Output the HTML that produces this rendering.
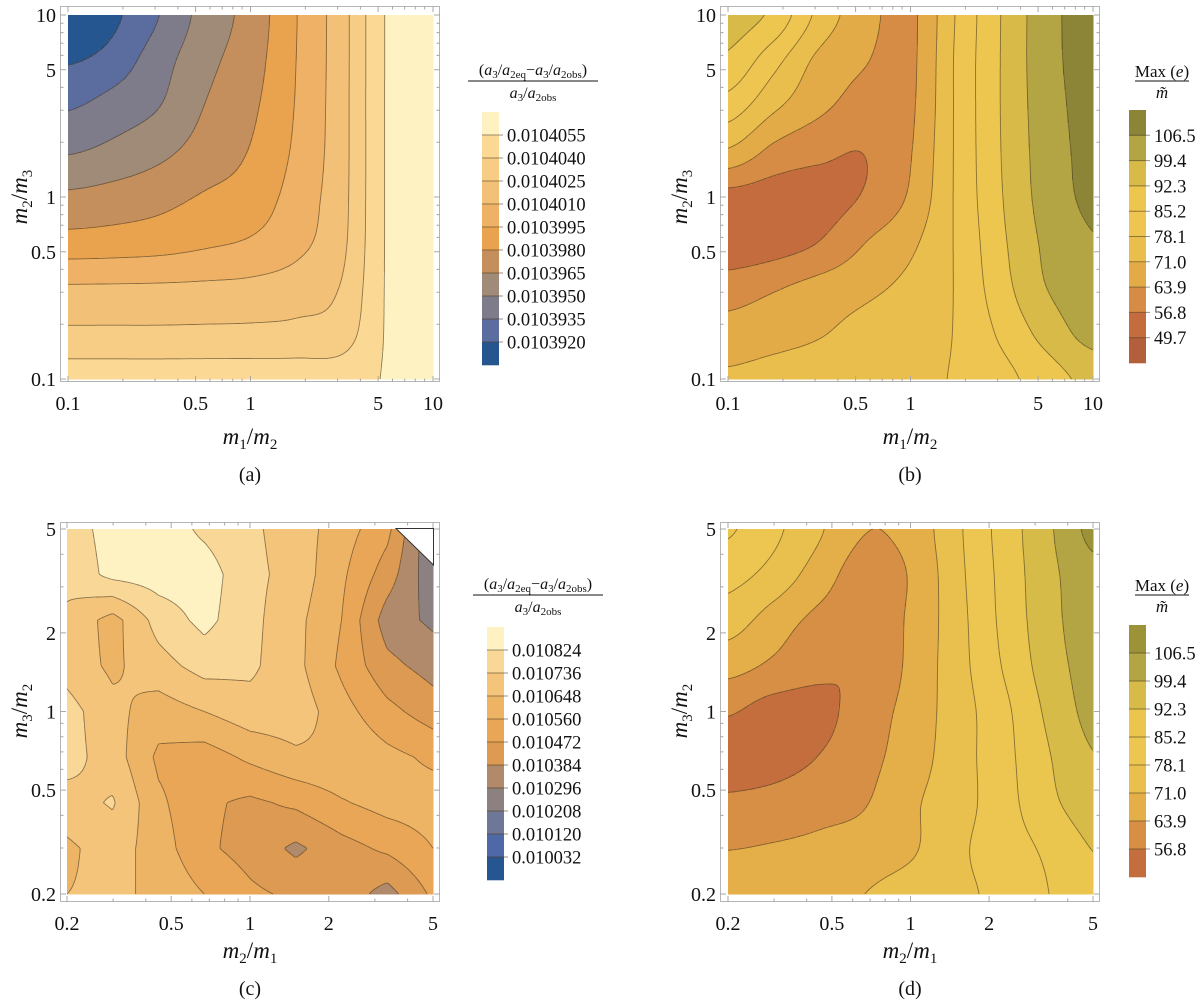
<!DOCTYPE html>
<html>
<head>
<meta charset="utf-8">
<style>
  html,body{margin:0;padding:0;background:#fff;}
  svg{display:block;font-family:"Liberation Serif",serif;}
</style>
</head>
<body>
<svg id="fig" width="1200" height="1003" viewBox="0 0 1200 1003" xmlns="http://www.w3.org/2000/svg">
  <g fill="#111">
    <text x="250" y="444" text-anchor="middle" font-size="23"><tspan font-style="italic">m</tspan><tspan font-size="15" dy="5">1</tspan><tspan dy="-5">/</tspan><tspan font-style="italic">m</tspan><tspan font-size="15" dy="5">2</tspan></text>
    <text transform="translate(27,197) rotate(-90)" text-anchor="middle" font-size="23"><tspan font-style="italic">m</tspan><tspan font-size="15" dy="5">2</tspan><tspan dy="-5">/</tspan><tspan font-style="italic">m</tspan><tspan font-size="15" dy="5">3</tspan></text>
    <text x="250" y="481" text-anchor="middle" font-size="20">(a)</text>
    <g font-size="16">
      <text x="533" y="75" text-anchor="middle">(<tspan font-style="italic">a</tspan><tspan font-size="11" dy="3">3</tspan><tspan dy="-3">/</tspan><tspan font-style="italic">a</tspan><tspan font-size="11" dy="3">2eq</tspan><tspan dy="-3">−</tspan><tspan font-style="italic">a</tspan><tspan font-size="11" dy="3">3</tspan><tspan dy="-3">/</tspan><tspan font-style="italic">a</tspan><tspan font-size="11" dy="3">2obs</tspan><tspan dy="-3">)</tspan></text>
      <line x1="468" y1="81" x2="598" y2="81" stroke="#111" stroke-width="1"/>
      <text x="533" y="98" text-anchor="middle"><tspan font-style="italic">a</tspan><tspan font-size="11" dy="3">3</tspan><tspan dy="-3">/</tspan><tspan font-style="italic">a</tspan><tspan font-size="11" dy="3">2obs</tspan></text>
    </g>
  </g>
  <g fill="#111">
    <text x="910" y="444" text-anchor="middle" font-size="23"><tspan font-style="italic">m</tspan><tspan font-size="15" dy="5">1</tspan><tspan dy="-5">/</tspan><tspan font-style="italic">m</tspan><tspan font-size="15" dy="5">2</tspan></text>
    <text transform="translate(687,197) rotate(-90)" text-anchor="middle" font-size="23"><tspan font-style="italic">m</tspan><tspan font-size="15" dy="5">2</tspan><tspan dy="-5">/</tspan><tspan font-style="italic">m</tspan><tspan font-size="15" dy="5">3</tspan></text>
    <text x="910" y="481" text-anchor="middle" font-size="20">(b)</text>
    <g font-size="17">
      <text x="1162" y="77" text-anchor="middle">Max (<tspan font-style="italic">e</tspan>)</text>
      <line x1="1135" y1="81" x2="1189" y2="81" stroke="#111" stroke-width="1"/>
      <text x="1162" y="98" text-anchor="middle" font-style="italic">m̃</text>
    </g>
  </g>
  <g fill="#111">
    <text x="250" y="958" text-anchor="middle" font-size="23"><tspan font-style="italic">m</tspan><tspan font-size="15" dy="5">2</tspan><tspan dy="-5">/</tspan><tspan font-style="italic">m</tspan><tspan font-size="15" dy="5">1</tspan></text>
    <text transform="translate(27,711) rotate(-90)" text-anchor="middle" font-size="23"><tspan font-style="italic">m</tspan><tspan font-size="15" dy="5">3</tspan><tspan dy="-5">/</tspan><tspan font-style="italic">m</tspan><tspan font-size="15" dy="5">2</tspan></text>
    <text x="250" y="995" text-anchor="middle" font-size="20">(c)</text>
    <g font-size="16">
      <text x="538" y="589" text-anchor="middle">(<tspan font-style="italic">a</tspan><tspan font-size="11" dy="3">3</tspan><tspan dy="-3">/</tspan><tspan font-style="italic">a</tspan><tspan font-size="11" dy="3">2eq</tspan><tspan dy="-3">−</tspan><tspan font-style="italic">a</tspan><tspan font-size="11" dy="3">3</tspan><tspan dy="-3">/</tspan><tspan font-style="italic">a</tspan><tspan font-size="11" dy="3">2obs</tspan><tspan dy="-3">)</tspan></text>
      <line x1="473" y1="595" x2="603" y2="595" stroke="#111" stroke-width="1"/>
      <text x="538" y="612" text-anchor="middle"><tspan font-style="italic">a</tspan><tspan font-size="11" dy="3">3</tspan><tspan dy="-3">/</tspan><tspan font-style="italic">a</tspan><tspan font-size="11" dy="3">2obs</tspan></text>
    </g>
  </g>
  <g fill="#111">
    <text x="910" y="958" text-anchor="middle" font-size="23"><tspan font-style="italic">m</tspan><tspan font-size="15" dy="5">2</tspan><tspan dy="-5">/</tspan><tspan font-style="italic">m</tspan><tspan font-size="15" dy="5">1</tspan></text>
    <text transform="translate(687,711) rotate(-90)" text-anchor="middle" font-size="23"><tspan font-style="italic">m</tspan><tspan font-size="15" dy="5">3</tspan><tspan dy="-5">/</tspan><tspan font-style="italic">m</tspan><tspan font-size="15" dy="5">2</tspan></text>
    <text x="910" y="995" text-anchor="middle" font-size="20">(d)</text>
    <g font-size="17">
      <text x="1162" y="591" text-anchor="middle">Max (<tspan font-style="italic">e</tspan>)</text>
      <line x1="1135" y1="595" x2="1189" y2="595" stroke="#111" stroke-width="1"/>
      <text x="1162" y="612" text-anchor="middle" font-style="italic">m̃</text>
    </g>
  </g>
</svg>
<script>
// ---------------- DATA ----------------
const A_CATS_X = [0.1, 0.1778, 0.3162, 0.5623, 1, 1.778, 3.162, 5.623, 10];
const A_CATS_Y = [10, 5.623, 3.162, 1.778, 1, 0.5623, 0.3162, 0.1778, 0.1];
const A_Z = [
  [0.01038960,0.01039163,0.01039350,0.01039557,0.01039707,0.01039944,0.01040192,0.01040565,0.01040655],
  [0.01039181,0.01039269,0.01039436,0.01039605,0.01039734,0.01039950,0.01040193,0.01040565,0.01040655],
  [0.01039334,0.01039410,0.01039497,0.01039653,0.01039769,0.01039959,0.01040195,0.01040565,0.01040655],
  [0.01039487,0.01039541,0.01039613,0.01039713,0.01039809,0.01039977,0.01040196,0.01040565,0.01040655],
  [0.01039680,0.01039709,0.01039751,0.01039815,0.01039869,0.01040012,0.01040202,0.01040565,0.01040655],
  [0.01039857,0.01039868,0.01039887,0.01039926,0.01039967,0.01040055,0.01040216,0.01040565,0.01040655],
  [0.01040118,0.01040120,0.01040123,0.01040130,0.01040141,0.01040177,0.01040262,0.01040565,0.01040655],
  [0.01040280,0.01040280,0.01040280,0.01040283,0.01040286,0.01040294,0.01040328,0.01040565,0.01040655],
  [0.01040475,0.01040475,0.01040475,0.01040475,0.01040475,0.01040475,0.01040477,0.01040565,0.01040655]
];
const A_LEVELS = [0.010392,0.0103935,0.010395,0.0103965,0.010398,0.0103995,0.010401,0.0104025,0.010404,0.0104055];
const A_LEGEND_LABELS = ["0.0103920","0.0103935","0.0103950","0.0103965","0.0103980","0.0103995","0.0104010","0.0104025","0.0104040","0.0104055"];
const A_COLORS = ["#26568f","#5b6c9f","#7e7b8a","#a08a78","#c48f5c","#e9a24e","#eeb166","#f2c077","#f7cd85","#fbd894","#fff2c2"];

const B_CATS_X = [0.1, 0.1778, 0.3162, 0.5623, 1, 1.778, 3.162, 5.623, 10];
const B_CATS_Y = [10, 5.623, 3.162, 1.778, 1, 0.5623, 0.3162, 0.1778, 0.1];
const B_Z = [
  [96, 90.5, 76, 66.5, 62.5, 78.5, 92.6, 104, 110],
  [90.8, 80.6, 69.2, 64.3, 62.5, 79, 92.7, 104, 109.5],
  [82, 72.5, 65.5, 61.5, 62.8, 79, 92.7, 103.5, 109],
  [70, 62, 58.5, 57, 63.5, 79, 92.5, 103, 108.5],
  [54.5, 53.5, 54, 57.5, 65, 79, 92, 102.5, 108],
  [52, 53.5, 57, 63.8, 69.5, 78.8, 91, 101, 106],
  [60.5, 63.2, 66.5, 69.3, 73, 78.6, 89.6, 99.5, 104],
  [66.8, 68.5, 70.5, 73.5, 76, 78.5, 86.5, 95, 102],
  [72, 73.3, 74.5, 75.8, 77, 78.6, 83, 89, 94.5]
];
const B_LEVELS = [49.7,56.8,63.9,71.0,78.1,85.2,92.3,99.4,106.5];
const B_LEGEND_LABELS = ["49.7","56.8","63.9","71.0","78.1","85.2","92.3","99.4","106.5"];
const B_COLORS = ["#b45f3b","#c46c3e","#d68c44","#e3ab47","#eabe4c","#edc550","#ecc64f","#d8ba48","#b3a544","#8c8538"];

const C_CATS_X = [0.2, 0.2991, 0.4472, 0.6687, 1, 1.495, 2.236, 3.344, 5];
const C_CATS_Y = [5, 3.344, 2.236, 1.495, 1, 0.6687, 0.4472, 0.2991, 0.2];
const C_Z = [
  [0.010780,0.010859,0.010877,0.010806,0.010754,0.010692,0.010604,0.010498,0.010208],
  [0.010762,0.010850,0.010868,0.010868,0.010762,0.010701,0.010578,0.010428,0.010234],
  [0.010718,0.010613,0.010771,0.010850,0.010762,0.010674,0.010560,0.010340,0.010278],
  [0.010701,0.010630,0.010701,0.010771,0.010754,0.010674,0.010542,0.010410,0.010349],
  [0.010771,0.010674,0.010604,0.010648,0.010701,0.010701,0.010595,0.010498,0.010428],
  [0.010771,0.010692,0.010542,0.010516,0.010578,0.010630,0.010639,0.010586,0.010542],
  [0.010701,0.010745,0.010578,0.010490,0.010454,0.010490,0.010551,0.010595,0.010604],
  [0.010630,0.010692,0.010604,0.010490,0.010437,0.010366,0.010437,0.010490,0.010560],
  [0.010648,0.010666,0.010630,0.010560,0.010490,0.010454,0.010437,0.010349,0.010490]
];
const C_LEVELS = [0.010032,0.010120,0.010208,0.010296,0.010384,0.010472,0.010560,0.010648,0.010736,0.010824];
const C_LEGEND_LABELS = ["0.010032","0.010120","0.010208","0.010296","0.010384","0.010472","0.010560","0.010648","0.010736","0.010824"];
const C_COLORS = ["#26568f","#4f68a6","#6e7896","#8c8080","#b08a6a","#dd9a52","#e8a656","#eeb466","#f3c47a","#f9d796","#fff2c2"];

const D_CATS_X = [0.2, 0.2991, 0.4472, 0.6687, 1, 1.495, 2.236, 3.344, 5];
const D_CATS_Y = [5, 3.344, 2.236, 1.495, 1, 0.6687, 0.4472, 0.2991, 0.2];
const D_Z = [
  [86, 79.8, 71.9, 64.2, 66.4, 76.5, 87.7, 97.9, 108.5],
  [80.6, 75.5, 67.5, 60.5, 64.5, 75.8, 87, 97, 104.5],
  [74.2, 67.8, 62, 59.5, 65, 75.2, 86.5, 96.5, 103.8],
  [66.5, 62.5, 58.5, 57.5, 65.5, 75, 85.3, 95.5, 102.5],
  [57.5, 54, 55, 60, 66.5, 74.5, 83, 93.5, 101.5],
  [53, 54, 57, 61.5, 67.5, 74.7, 82.5, 91.6, 99],
  [58.2, 59.3, 61.4, 63.5, 69.7, 75, 82, 90.3, 96],
  [63.7, 64.5, 65.5, 67, 70, 76.5, 81.5, 86.5, 92.5],
  [67.5, 68, 69, 71, 74, 76.5, 80, 85, 90.5]
];
const D_LEVELS = [56.8,63.9,71.0,78.1,85.2,92.3,99.4,106.5];
const D_LEGEND_LABELS = ["56.8","63.9","71.0","78.1","85.2","92.3","99.4","106.5"];
const D_COLORS = ["#c46e3e","#d68f44","#e4ae48","#e9c04e","#ecc651","#ebc64f","#d6bb48","#b3a444","#9c9238"];

const AB_TICKS = [0.1, 0.5, 1, 5, 10];
const AB_TICK_LABELS = ["0.1", "0.5", "1", "5", "10"];
const CD_TICKS = [0.2, 0.5, 1, 2, 5];
const CD_TICK_LABELS = ["0.2", "0.5", "1", "2", "5"];

// ---------------- RENDERING ----------------
const NS = 'http://www.w3.org/2000/svg';
const svg = document.getElementById('fig');
function mk(tag, parent) { const e = document.createElementNS(NS, tag); parent.appendChild(e); return e; }
function geo(e, o) { for (const k in o) e.setAttribute(k, o[k]); return e; }

function locate(arr, v) {
  const n = arr.length;
  for (let i = 0; i < n - 1; i++) {
    const a = arr[i], b = arr[i + 1];
    const t = (v - a) / (b - a);
    if (t >= -1e-9 && t <= 1 + 1e-9) return [i, Math.min(1, Math.max(0, t))];
  }
  const asc = arr[n - 1] > arr[0];
  if ((v < arr[0]) === asc) return [0, 0];
  return [n - 2, 1];
}
function bandOf(v, levels) { let k = 0; while (k < levels.length && v > levels[k]) k++; return k; }
function cr(p0, p1, p2, p3, t) {
  return 0.5 * (2 * p1 + (-p0 + p2) * t + (2 * p0 - 5 * p1 + 4 * p2 - p3) * t * t + (-p0 + 3 * p1 - 3 * p2 + p3) * t * t * t);
}

function drawPanel(P) {
  const g = mk('g', svg);
  
  
  const [x0, x1, y0, y1] = P.box;
  const W = x1 - x0, H = y1 - y0;
  const lxlo = Math.log10(P.xd[0]), lxhi = Math.log10(P.xd[1]);
  const lylo = Math.log10(P.yd[0]), lyhi = Math.log10(P.yd[1]);
  const sx = v => x0 + (Math.log10(v) - lxlo) / (lxhi - lxlo) * W;
  const sy = v => y1 - (Math.log10(v) - lylo) / (lyhi - lylo) * H;
  const gxl = P.gx.map(Math.log10), gyl = P.gy.map(Math.log10);
  const z = P.z, nr = z.length, nc = z[0].length;
  const Z = (j, i) => z[Math.max(0, Math.min(nr - 1, j))][Math.max(0, Math.min(nc - 1, i))];
  function field(px, py) {
    const X = lxlo + (px - x0) / W * (lxhi - lxlo);
    const Y = lyhi - (py - y0) / H * (lyhi - lylo);
    const [i, tx] = locate(gxl, X);
    const [j, ty] = locate(gyl, Y);
    if (P.smooth) {
      const rows = [];
      for (let jj = j - 1; jj <= j + 2; jj++) rows.push(cr(Z(jj, i - 1), Z(jj, i), Z(jj, i + 1), Z(jj, i + 2), tx));
      return cr(rows[0], rows[1], rows[2], rows[3], ty);
    }
    const a = Z(j, i), b = Z(j, i + 1), c = Z(j + 1, i), d = Z(j + 1, i + 1);
    return (a * (1 - tx) + b * tx) * (1 - ty) + (c * (1 - tx) + d * tx) * ty;
  }
  const [fx0, fx1, fy0, fy1] = P.frame;
  const frame = mk('rect', g);
  
  
  geo(frame, {x: fx0 + 0.5, y: fy0 + 0.5, width: fx1 - fx0 - 1, height: fy1 - fy0 - 1, fill: '#fff', stroke: '#b5b5b5', 'stroke-width': 1});

  const step = 1.5;
  const nx = Math.ceil(W / step), ny = Math.ceil(H / step);
  const cw = W / nx, ch = H / ny;
  const V = [];
  for (let j = 0; j <= ny; j++) {
    const row = [];
    for (let i = 0; i <= nx; i++) row.push(field(x0 + i * cw, y0 + j * ch));
    V.push(row);
  }
  const fillG = mk('g', g);
  
  
  fillG.setAttribute('shape-rendering', 'crispEdges');
  for (let j = 0; j < ny; j++) {
    let start = 0, cur = -1;
    for (let i = 0; i <= nx; i++) {
      let b = -2;
      if (i < nx) {
        const v = (V[j][i] + V[j][i + 1] + V[j + 1][i] + V[j + 1][i + 1]) / 4;
        b = bandOf(v, P.levels);
      }
      if (b !== cur) {
        if (cur >= 0) {
          const r = mk('rect', fillG);
          
          
          geo(r, {x: (x0 + start * cw).toFixed(2), y: (y0 + j * ch).toFixed(2), width: ((i - start) * cw + 0.4).toFixed(2), height: (ch + 0.4).toFixed(2), fill: P.colors[cur]});
        }
        start = i; cur = b;
      }
    }
  }
  let d = '';
  for (const L of P.levels) {
    for (let j = 0; j < ny; j++) {
      for (let i = 0; i < nx; i++) {
        const a = V[j][i], b = V[j][i + 1], c = V[j + 1][i + 1], e = V[j + 1][i];
        const pts = [];
        const X = i * cw + x0, Y = j * ch + y0;
        if ((a > L) !== (b > L)) pts.push([X + (L - a) / (b - a) * cw, Y]);
        if ((b > L) !== (c > L)) pts.push([X + cw, Y + (L - b) / (c - b) * ch]);
        if ((e > L) !== (c > L)) pts.push([X + (L - e) / (c - e) * cw, Y + ch]);
        if ((a > L) !== (e > L)) pts.push([X, Y + (L - a) / (e - a) * ch]);
        if (pts.length >= 2) {
          d += 'M' + pts[0][0].toFixed(1) + ' ' + pts[0][1].toFixed(1) + 'L' + pts[1][0].toFixed(1) + ' ' + pts[1][1].toFixed(1);
          if (pts.length === 4) d += 'M' + pts[2][0].toFixed(1) + ' ' + pts[2][1].toFixed(1) + 'L' + pts[3][0].toFixed(1) + ' ' + pts[3][1].toFixed(1);
        }
      }
    }
  }
  const lines = mk('path', g);
  
  
  geo(lines, {d: d, fill: 'none', stroke: 'rgba(70,55,30,0.6)', 'stroke-width': 0.9});

  if (P.cut) {
    const cut = mk('polygon', g);
    
    
    geo(cut, {points: P.cut.map(p => p.join(',')).join(' '), fill: '#fff', stroke: '#333', 'stroke-width': 1});
  }

  const tickG = mk('g', g);
  
  
  let td = '';
  const major = P.ticks.map(v => v.toFixed(4));
  for (let dd = Math.floor(lxlo); dd <= Math.ceil(lxhi); dd++) {
    for (let k = 1; k <= 9; k++) {
      const v = k * Math.pow(10, dd);
      if (v < P.xd[0] * 0.999 || v > P.xd[1] * 1.001) continue;
      const len = major.includes(v.toFixed(4)) ? 6 : 3.5;
      const px = sx(v).toFixed(1);
      td += `M${px} ${fy1}v${-len}M${px} ${fy0}v${len}`;
    }
  }
  for (let dd = Math.floor(lylo); dd <= Math.ceil(lyhi); dd++) {
    for (let k = 1; k <= 9; k++) {
      const v = k * Math.pow(10, dd);
      if (v < P.yd[0] * 0.999 || v > P.yd[1] * 1.001) continue;
      const len = major.includes(v.toFixed(4)) ? 6 : 3.5;
      const py = sy(v).toFixed(1);
      td += `M${fx0} ${py}h${len}M${fx1} ${py}h${-len}`;
    }
  }
  const tp = mk('path', tickG);
  
  
  geo(tp, {d: td, stroke: '#a8a8a8', 'stroke-width': 1, fill: 'none'});

  P.ticks.forEach((v, k) => {
    const t = mk('text', tickG);
    
    
    geo(t, {x: sx(v).toFixed(1), y: fy1 + 28, 'text-anchor': 'middle', 'font-size': 20, fill: '#111'});
    t.textContent = P.tickLabels[k];
    const u = mk('text', tickG);
    
    
    geo(u, {x: fx0 - 4, y: (sy(v) + 7).toFixed(1), 'text-anchor': 'end', 'font-size': 20, fill: '#111'});
    u.textContent = P.tickLabels[k];
  });

  const cb = mk('g', g);
  
  
  const n = P.colors.length;
  const bh = (P.cbar.bot - P.cbar.top) / n;
  for (let k = 0; k < n; k++) {
    const r = mk('rect', cb);
    
    
    geo(r, {x: P.cbar.x, y: (P.cbar.bot - (k + 1) * bh).toFixed(2), width: P.cbar.w, height: (bh + 0.3).toFixed(2), fill: P.colors[k]});
  }
  P.levels.forEach((lv, k) => {
    const y = P.cbar.bot - (k + 1) * bh;
    const ln = mk('line', cb);
    
    
    geo(ln, {x1: P.cbar.x, x2: P.cbar.x + P.cbar.w + 4, y1: y.toFixed(1), y2: y.toFixed(1), stroke: 'rgba(70,55,30,0.55)', 'stroke-width': 1});
    const t = mk('text', cb);
    
    
    geo(t, {x: P.cbar.x + P.cbar.w + 8, y: (y + 6.5).toFixed(1), 'font-size': 18.5, fill: '#111'});
    t.textContent = P.legendLabels[k];
  });
}

drawPanel({key: 'a', smooth: true, box: [68, 433, 15, 379], frame: [60, 440, 6, 382], xd: [0.1, 10], yd: [0.1, 10],
  gx: A_CATS_X, gy: A_CATS_Y, z: A_Z, levels: A_LEVELS, colors: A_COLORS, legendLabels: A_LEGEND_LABELS,
  ticks: AB_TICKS, tickLabels: AB_TICK_LABELS, cbar: {x: 482, w: 17, top: 112, bot: 365}});
drawPanel({key: 'b', smooth: true, box: [728, 1093, 15, 379], frame: [720, 1100, 6, 382], xd: [0.1, 10], yd: [0.1, 10],
  gx: B_CATS_X, gy: B_CATS_Y, z: B_Z, levels: B_LEVELS, colors: B_COLORS, legendLabels: B_LEGEND_LABELS,
  ticks: AB_TICKS, tickLabels: AB_TICK_LABELS, cbar: {x: 1129, w: 17, top: 110, bot: 363}});
drawPanel({key: 'c', smooth: false, box: [67, 433, 529, 894], frame: [60, 440, 522, 902], xd: [0.2, 5], yd: [0.2, 5],
  gx: C_CATS_X, gy: C_CATS_Y, z: C_Z, levels: C_LEVELS, colors: C_COLORS, legendLabels: C_LEGEND_LABELS,
  ticks: CD_TICKS, tickLabels: CD_TICK_LABELS, cbar: {x: 487, w: 17, top: 627, bot: 880},
  cut: [[396, 528.5], [433.5, 528.5], [433.5, 565]]});
drawPanel({key: 'd', smooth: true, box: [728, 1093, 529, 894], frame: [720, 1100, 522, 902], xd: [0.2, 5], yd: [0.2, 5],
  gx: D_CATS_X, gy: D_CATS_Y, z: D_Z, levels: D_LEVELS, colors: D_COLORS, legendLabels: D_LEGEND_LABELS,
  ticks: CD_TICKS, tickLabels: CD_TICK_LABELS, cbar: {x: 1129, w: 17, top: 625, bot: 877}});
</script>
</body>
</html>
